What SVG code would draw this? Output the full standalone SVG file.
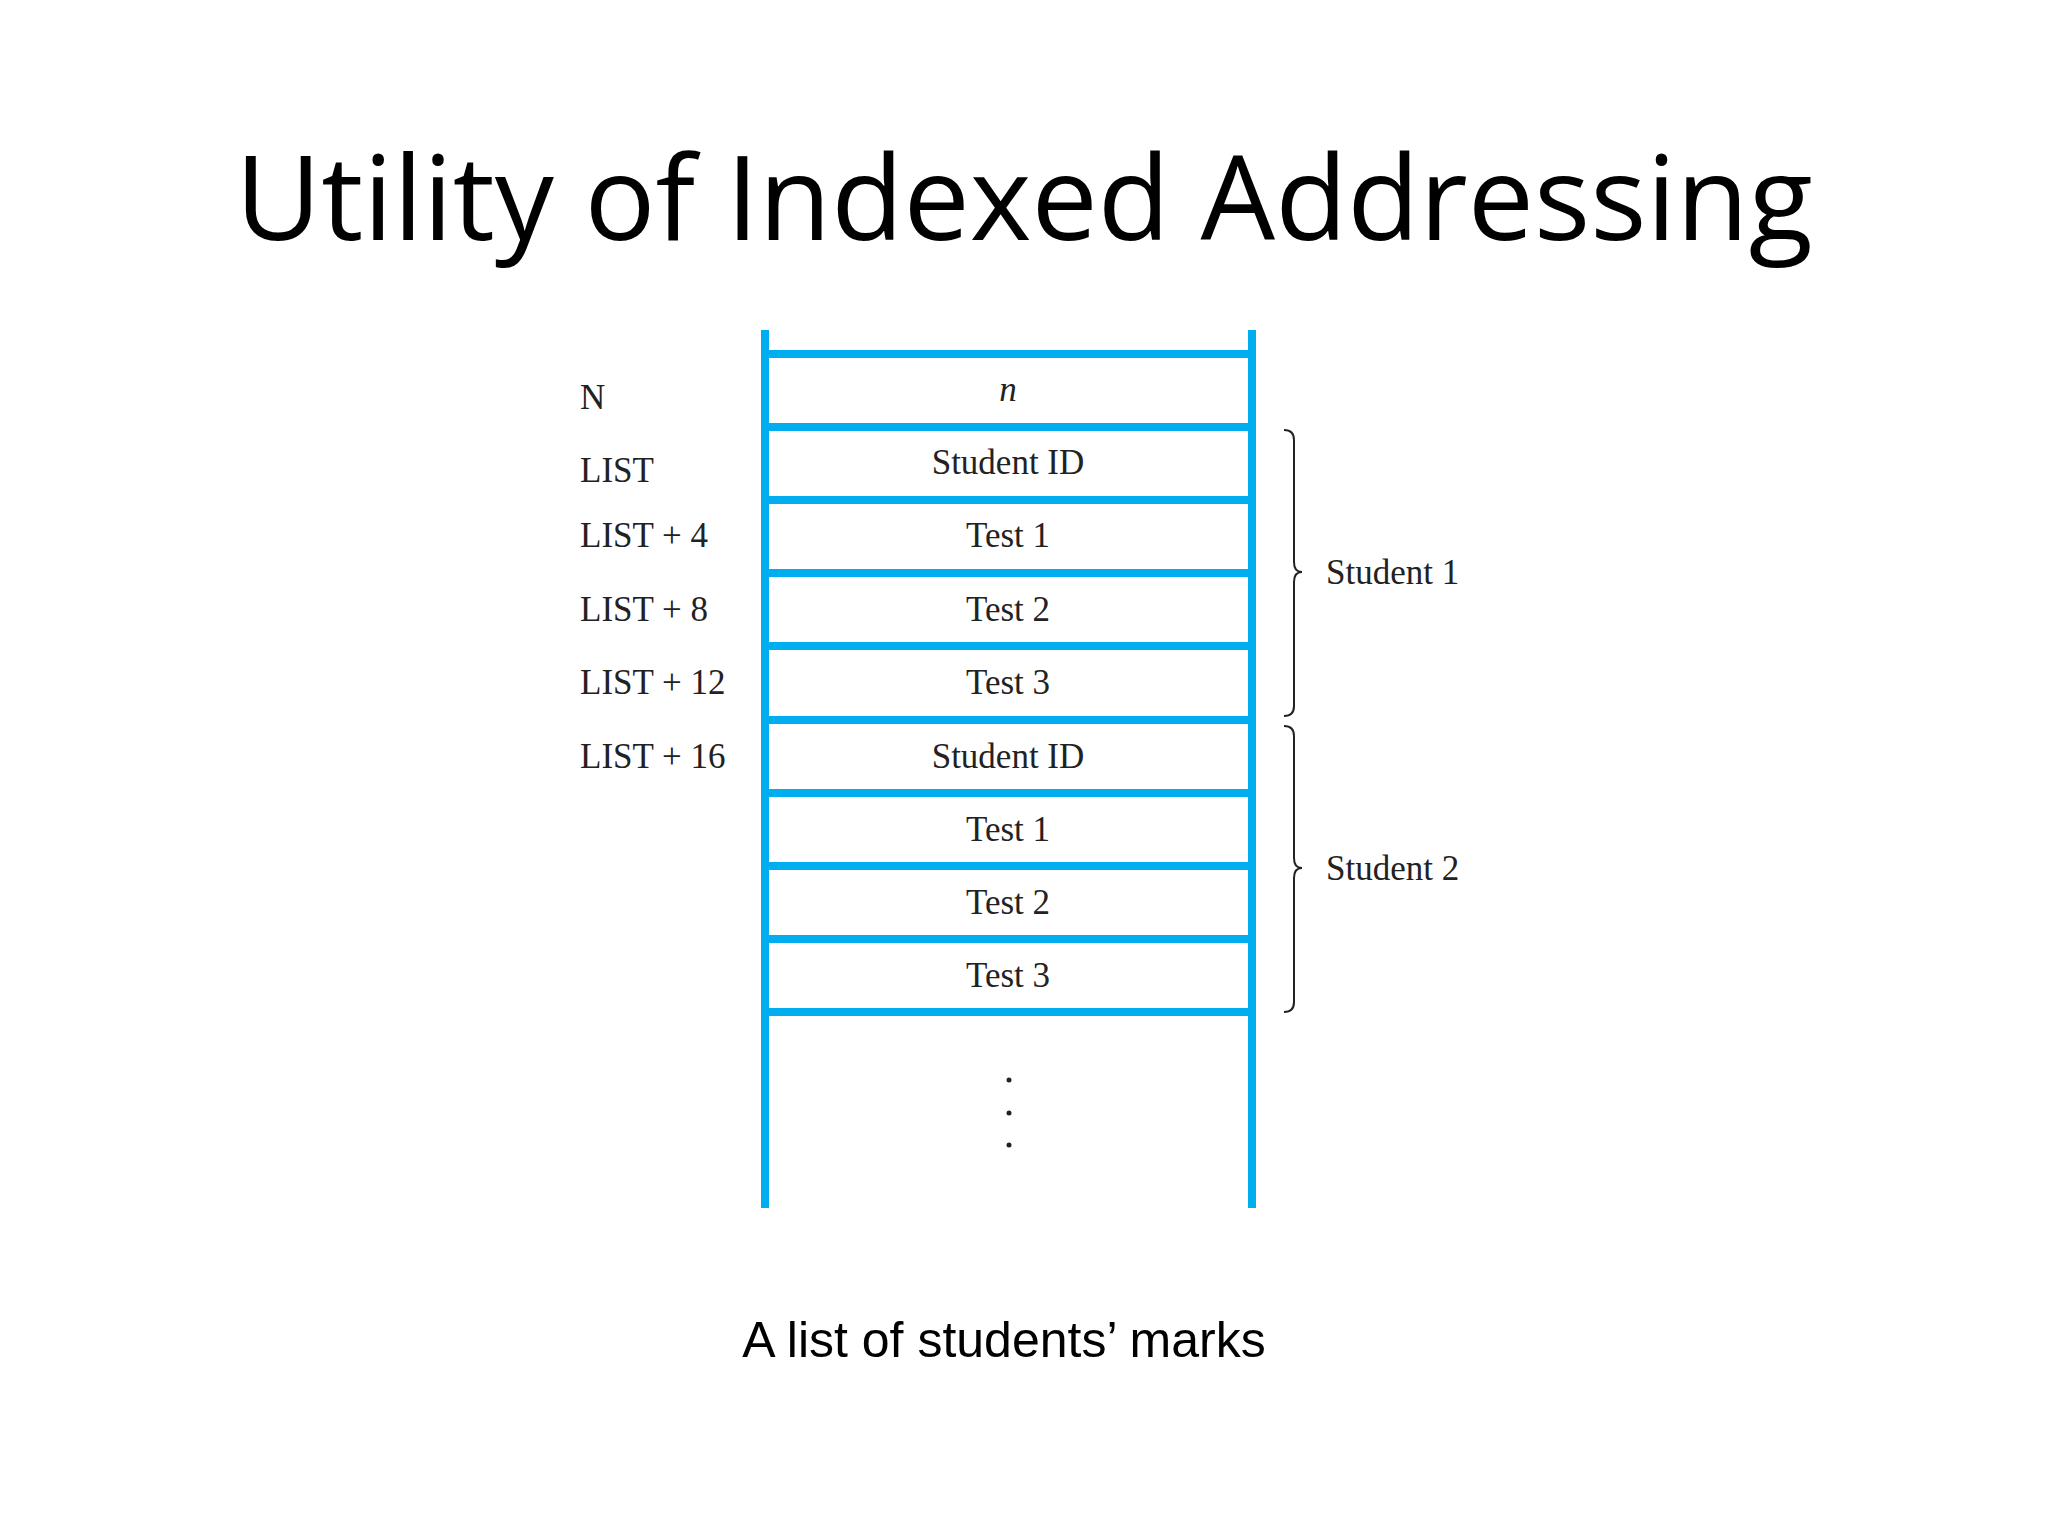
<svg xmlns="http://www.w3.org/2000/svg" width="2048" height="1536" viewBox="0 0 2048 1536">
<style>
.t{font-family:"Liberation Serif",serif;font-size:35px;fill:#222}
.c{text-anchor:middle}
.b{stroke:#00adef;stroke-width:8;fill:none}
.br{stroke:#222;stroke-width:2;fill:none}
</style>
<rect width="2048" height="1536" fill="#fff"/>
<text x="1024" y="240" text-anchor="middle" font-family="Open Sans, sans-serif" font-size="118" fill="#000">Utility of Indexed Addressing</text>
<g id="memory">
<line class="b" x1="765" y1="330" x2="765" y2="1208"/>
<line class="b" x1="1252" y1="330" x2="1252" y2="1208"/>
<line class="b" x1="765" y1="354" x2="1252" y2="354"/>
<line class="b" x1="765" y1="427" x2="1252" y2="427"/>
<line class="b" x1="765" y1="500" x2="1252" y2="500"/>
<line class="b" x1="765" y1="573" x2="1252" y2="573"/>
<line class="b" x1="765" y1="646" x2="1252" y2="646"/>
<line class="b" x1="765" y1="720" x2="1252" y2="720"/>
<line class="b" x1="765" y1="793" x2="1252" y2="793"/>
<line class="b" x1="765" y1="866" x2="1252" y2="866"/>
<line class="b" x1="765" y1="939" x2="1252" y2="939"/>
<line class="b" x1="765" y1="1012" x2="1252" y2="1012"/>
</g>
<g id="cells">
<text class="t c" x="1008" y="401" font-style="italic">n</text>
<text class="t c" x="1008" y="474">Student ID</text>
<text class="t c" x="1008" y="547">Test 1</text>
<text class="t c" x="1008" y="621">Test 2</text>
<text class="t c" x="1008" y="694">Test 3</text>
<text class="t c" x="1008" y="768">Student ID</text>
<text class="t c" x="1008" y="841">Test 1</text>
<text class="t c" x="1008" y="914">Test 2</text>
<text class="t c" x="1008" y="987">Test 3</text>
<circle cx="1009" cy="1080" r="2.5" fill="#222"/>
<circle cx="1009" cy="1113" r="2.5" fill="#222"/>
<circle cx="1009" cy="1145" r="2.5" fill="#222"/>
</g>
<g id="labels">
<text class="t" x="580" y="409">N</text>
<text class="t" x="580" y="482">LIST</text>
<text class="t" x="580" y="547">LIST + 4</text>
<text class="t" x="580" y="621">LIST + 8</text>
<text class="t" x="580" y="694">LIST + 12</text>
<text class="t" x="580" y="768">LIST + 16</text>
</g>
<g id="braces">
<path class="br" d="M1284,430 q10,0 10,10 v122 q0,10 8,10 q-8,0 -8,10 v124 q0,10 -10,10"/>
<path class="br" d="M1284,726 q10,0 10,10 v122 q0,10 8,10 q-8,0 -8,10 v124 q0,10 -10,10"/>
<text class="t" x="1326" y="584">Student 1</text>
<text class="t" x="1326" y="880">Student 2</text>
</g>
<text x="1004" y="1357" text-anchor="middle" font-family="Liberation Sans, sans-serif" font-size="50" fill="#000">A list of students’ marks</text>
</svg>
